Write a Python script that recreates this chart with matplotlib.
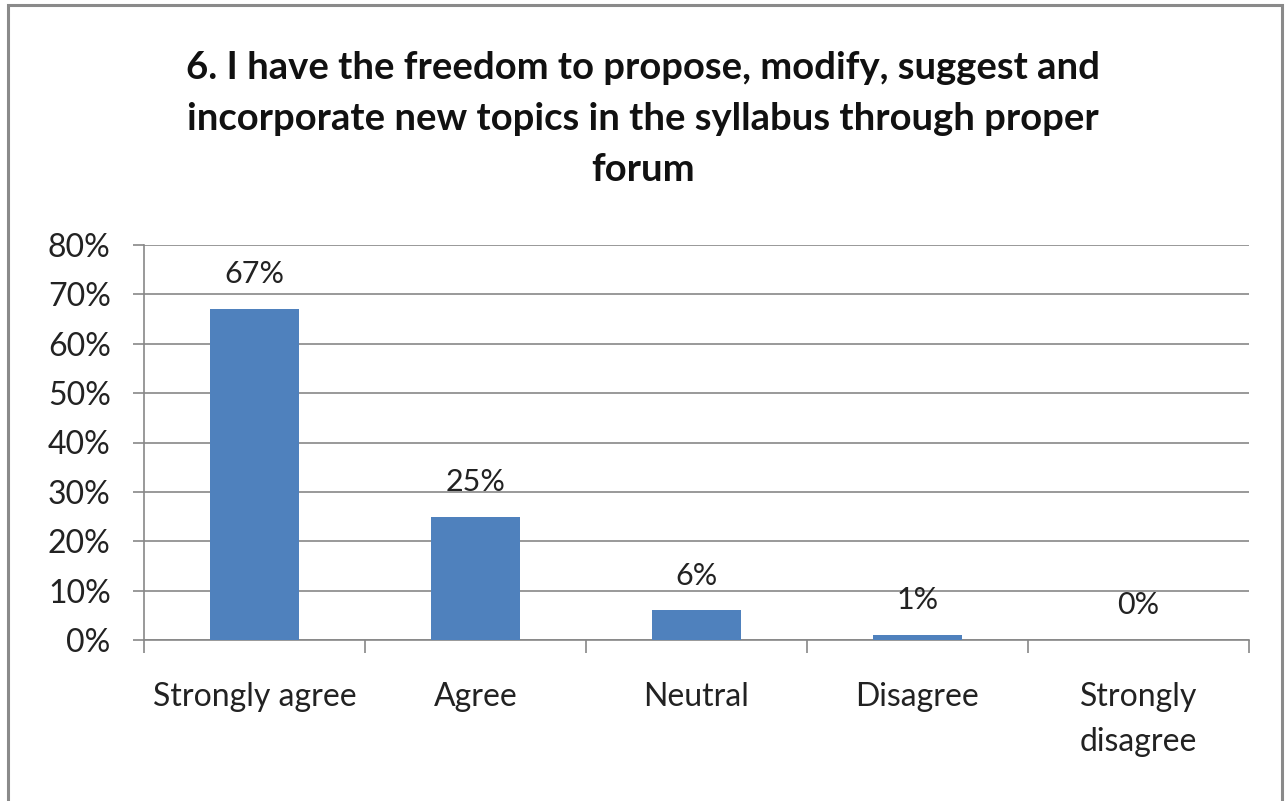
import matplotlib.pyplot as plt
import numpy as np
from matplotlib.ticker import FixedLocator, PercentFormatter

categories = ["Strongly agree", "Agree", "Neutral", "Disagree", "Strongly\ndisagree"]
values = [67, 25, 6, 1, 0]
labels = ["67%", "25%", "6%", "1%", "0%"]
title = ("6. I have the freedom to propose, modify, suggest and\n"
         "incorporate new topics in the syllabus through proper\nforum")

plt.rcParams["font.family"] = ["Lato", "DejaVu Sans"]
GRID = "#878787"
BAR = "#4f81bd"

fig = plt.figure(figsize=(12.86, 8.01), dpi=100)
ax = fig.add_axes([144 / 1286, 1 - 640 / 801, 1105 / 1286, 395 / 801])

x = np.arange(len(categories))
ax.bar(x, values, width=0.40, color=BAR, zorder=3)
for xi, v, lab in zip(x, values, labels):
    ax.annotate(lab, (xi, v), xytext=(0, 25), textcoords="offset points",
                ha="center", va="center", fontsize=22, color="#222222")

ax.set_xlim(-0.5, len(categories) - 0.5)
ax.set_ylim(0, 80)
ax.set_yticks(np.arange(0, 81, 10))
ax.yaxis.set_major_formatter(PercentFormatter(decimals=0))
ax.yaxis.grid(True, color=GRID, linewidth=1.2, zorder=0)

# category labels centred, tick marks on category boundaries
ax.set_xticks(x)
ax.set_xticklabels(categories, fontsize=23, color="#222222", linespacing=1.65)
ax.tick_params(axis="x", which="major", length=0, pad=30)
ax.xaxis.set_minor_locator(FixedLocator(np.arange(-0.5, len(categories), 1)))
ax.tick_params(axis="x", which="minor", length=9, width=1.2, color=GRID)
ax.tick_params(axis="y", length=8, width=1.2, color=GRID, labelsize=23,
               labelcolor="#222222", pad=16)

for side in ["top", "right"]:
    ax.spines[side].set_visible(False)
for side in ["left", "bottom"]:
    ax.spines[side].set_color(GRID)
    ax.spines[side].set_linewidth(1.2)

fig.text(0.5, 1 - 119 / 801, title, ha="center", va="center", fontsize=27.5,
         fontweight="bold", linespacing=1.62, color="#111111")

# outer chart border
border = plt.Rectangle((8 / 1286, -0.02), 1274 / 1286, 1 - 5 / 801 + 0.02,
                       transform=fig.transFigure, fill=False,
                       edgecolor="#8a8a8a", linewidth=2.2)
fig.patches.append(border)

fig.savefig("out.png", dpi=100)
